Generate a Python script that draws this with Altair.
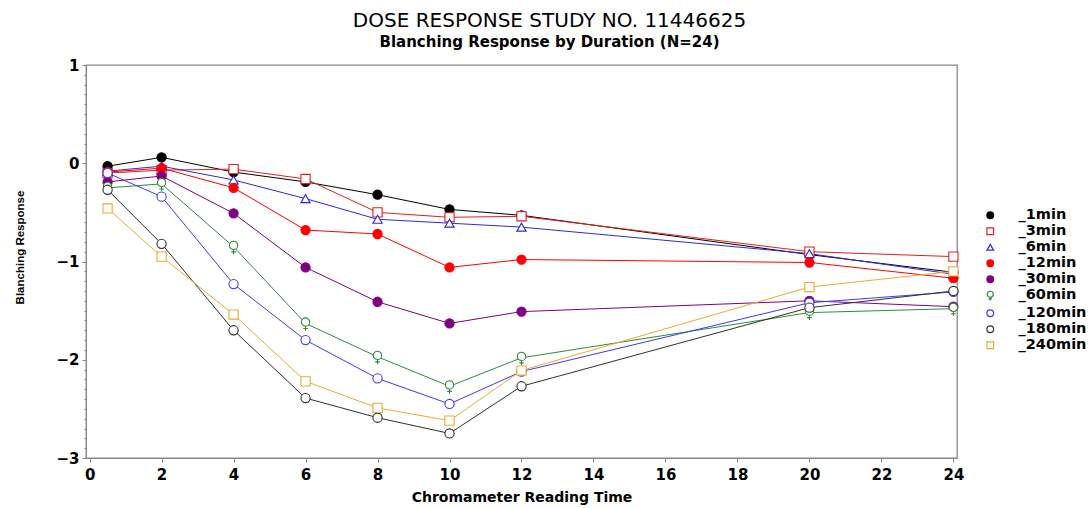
import altair as alt
import pandas as pd

times = [0.5, 2, 4, 6, 8, 10, 12, 20, 24]
series_names = ["1min", "3min", "6min", "12min", "30min", "60min", "120min", "180min", "240min"]

v_1min = [-0.03, 0.06, -0.09, -0.19, -0.32, -0.47, -0.53, -0.93, -1.11]
v_3min = [-0.10, -0.07, -0.06, -0.16, -0.50, -0.55, -0.54, -0.90, -0.95]
v_6min = [-0.08, -0.03, -0.17, -0.36, -0.57, -0.61, -0.65, -0.92, -1.13]
v_12min = [-0.09, -0.05, -0.25, -0.68, -0.72, -1.06, -0.98, -1.01, -1.17]
v_30min = [-0.19, -0.13, -0.51, -1.06, -1.41, -1.63, -1.51, -1.40, -1.46]
v_60min = [-0.25, -0.21, -0.85, -1.63, -1.97, -2.27, -1.98, -1.52, -1.48]
v_120min = [-0.10, -0.34, -1.23, -1.80, -2.19, -2.45, -2.12, -1.42, -1.31]
v_180min = [-0.27, -0.82, -1.70, -2.39, -2.59, -2.75, -2.27, -1.47, -1.30]
v_240min = [-0.46, -0.95, -1.54, -2.22, -2.49, -2.62, -2.11, -1.26, -1.10]

all_values = [v_1min, v_3min, v_6min, v_12min, v_30min, v_60min, v_120min, v_180min, v_240min]

colors = ["#000000", "#e02020", "#2a2ae0", "#ff0000", "#800080", "#2e8b3a", "#3a3aff", "#303030", "#f0a830"]
fills = ["#000000", "#ffffff", "#ffffff", "#ff0000", "#800080", "#ffffff", "#ffffff", "#ffffff", "#ffffff"]
circ_plus = ("M-0.9,-0.3 A0.9,0.9 0 1,0 0.9,-0.3 A0.9,0.9 0 1,0 -0.9,-0.3 Z "
             "M0,0.6 L0,1.6 M-0.5,1.1 L0.5,1.1")
shapes = ["circle", "square", "triangle-up", "circle", "circle", circ_plus, "circle", "circle", "square"]

y_major = [-3, -2, -1, 0, 1]
y_minor = [round(-3 + 0.1 * i, 1) for i in range(41)]
x_ticks = list(range(0, 25, 2))

rows = []
for name, vals in zip(series_names, all_values):
    for t, v in zip(times, vals):
        rows.append({"series": name, "time": t, "value": v})
df = pd.DataFrame(rows)

x = alt.X("time:Q", title="Chromameter Reading Time",
          scale=alt.Scale(domain=[-0.1, 24.1], nice=False, zero=False),
          axis=alt.Axis(values=x_ticks, grid=False, tickSize=4,
                        labelPadding=5, titlePadding=8))
y_scale = alt.Scale(domain=[-3, 1], nice=False)
y_main = alt.Y("value:Q", title="Blanching Response", scale=y_scale,
               axis=alt.Axis(values=y_major, grid=False, tickSize=4, orient="left",
                             labelPadding=3, titlePadding=30, titleY=182))
y_min = alt.Y("value:Q", scale=y_scale,
              axis=alt.Axis(values=y_minor, grid=False, tickSize=2, orient="left",
                            labels=False, domain=False, title=None))

color_scale = alt.Scale(domain=series_names, range=colors)
legend = alt.Legend(orient="none", legendX=897, legendY=143, title=None,
                    labelExpr="'_' + datum.label",
                    labelFontSize=14.5, labelFont="DejaVu Sans",
                    labelFontWeight="bold", symbolSize=45,
                    labelOffset=21, rowPadding=1, symbolStrokeWidth=1.2)

lines = alt.Chart(df).mark_line(strokeWidth=1).encode(
    x=x, y=y_min,
    color=alt.Color("series:N", scale=color_scale, legend=legend),
    detail="series:N",
)

points = alt.Chart(df).mark_point(filled=False, size=85, strokeWidth=1.1, opacity=1).encode(
    x=x, y=y_main,
    color=alt.Color("series:N", scale=color_scale, legend=legend),
    fill=alt.Fill("series:N", scale=alt.Scale(domain=series_names, range=fills), legend=legend),
    shape=alt.Shape("series:N", scale=alt.Scale(domain=series_names, range=shapes), legend=legend),
)

chart = alt.layer(lines, points).resolve_axis(y="independent").properties(
    width=871, height=393,
    title=alt.TitleParams(
        text="DOSE RESPONSE STUDY NO. 11446625",
        subtitle="Blanching Response by Duration (N=24)",
        font="DejaVu Sans", fontSize=20, fontWeight="normal", color="#000",
        subtitleFont="DejaVu Sans", subtitleFontSize=15, subtitleFontWeight="bold",
        subtitleColor="#000", subtitlePadding=4, anchor="middle", dx=28, offset=8,
    ),
    padding={"left": 86, "top": 65, "right": 135, "bottom": 50},
    autosize=alt.AutoSizeParams(type="none"),
).configure_view(
    stroke="#888", strokeWidth=1.3
).configure_axis(
    domainColor="#888", tickColor="#888",
    labelFont="DejaVu Sans", labelFontSize=15, labelFontWeight="bold", labelColor="#000",
    titleFont="DejaVu Sans", titleFontSize=14, titleFontWeight="bold", titleColor="#000",
).configure_axisY(
    titleFont="Liberation Sans", titleFontSize=11.5,
)

chart.save("out.html", embed_options={"renderer": "svg", "actions": False})
